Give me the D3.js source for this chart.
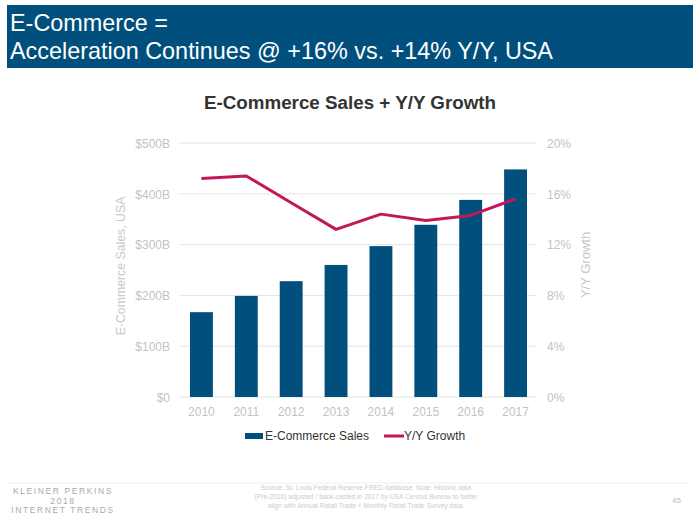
<!DOCTYPE html>
<html><head><meta charset="utf-8">
<script src="https://cdn.jsdelivr.net/npm/d3@7"></script>
<style>body{margin:0;background:#fff}svg{display:block;font-family:"Liberation Sans",Arial,sans-serif}</style>
</head><body><svg id="c" width="700" height="525"></svg>
<script>
const years = ["2010","2011","2012","2013","2014","2015","2016","2017"];
const sales = [167, 199, 228, 260, 297, 339, 388, 448];
const growth = [17.2, 17.4, 15.3, 13.2, 14.4, 13.9, 14.3, 15.6];
const salesTicks = [0, 100, 200, 300, 400, 500];
const growthTicks = [0, 4, 8, 12, 16, 20];

const svg = d3.select("#c");
// header bar
svg.append("rect").attr("x",7).attr("y",5).attr("width",686).attr("height",63).attr("fill","#004f7c");
svg.append("text").attr("x",10).attr("y",31).attr("fill","#fff").attr("font-size",23.4).text("E-Commerce =");
svg.append("text").attr("x",10).attr("y",59).attr("fill","#fff").attr("font-size",23.4).text("Acceleration Continues @ +16% vs. +14% Y/Y, USA");

svg.append("text").attr("x",350).attr("y",109).attr("text-anchor","middle").attr("fill","#333")
  .attr("font-size",18.8).attr("font-weight","bold").text("E-Commerce Sales + Y/Y Growth");

const x = d3.scaleBand().domain(years).range([179,538]).paddingInner(0.49).paddingOuter(0.245);
const y = d3.scaleLinear().domain([0,500]).range([397,143]);
const y2 = d3.scaleLinear().domain([0,20]).range([397,143]);

// gridlines
svg.append("g").selectAll("line").data(salesTicks).join("line")
  .attr("x1",179).attr("x2",536).attr("y1",d=>y(d)).attr("y2",d=>y(d))
  .attr("stroke","#e4e4e4").attr("stroke-width",1);

const la = svg.append("g").attr("transform","translate(170,0)")
  .call(d3.axisLeft(y).tickValues(salesTicks).tickSize(0).tickFormat(d=>d===0?"$0":"$"+d+"B"));
la.select(".domain").remove();
la.selectAll("text").attr("fill","#c3c3c3").attr("font-size",12).attr("font-family","Liberation Sans, Arial").attr("dy","0.35em").attr("x",0);

const ra = svg.append("g").attr("transform","translate(547,0)")
  .call(d3.axisRight(y2).tickValues(growthTicks).tickSize(0).tickFormat(d=>d+"%"));
ra.select(".domain").remove();
ra.selectAll("text").attr("fill","#c3c3c3").attr("font-size",12).attr("font-family","Liberation Sans, Arial").attr("dy","0.35em").attr("x",0);

const ba = svg.append("g").attr("transform","translate(0,407)")
  .call(d3.axisBottom(x).tickSize(0));
ba.select(".domain").remove();
ba.selectAll("text").attr("fill","#c3c3c3").attr("font-size",12).attr("font-family","Liberation Sans, Arial").attr("dy","0.71em").attr("y",0);

// bars
svg.append("g").selectAll("rect").data(years).join("rect")
  .attr("x",d=>x(d)).attr("width",x.bandwidth())
  .attr("y",(d,i)=>y(sales[i])).attr("height",(d,i)=>y(0)-y(sales[i]))
  .attr("fill","#004f7c");

// line
const line = d3.line().x((d,i)=>x(years[i])+x.bandwidth()/2).y(d=>y2(d));
svg.append("path").datum(growth).attr("d",line).attr("fill","none")
  .attr("stroke","#c0185a").attr("stroke-width",3).attr("stroke-linejoin","round");

// axis titles
svg.append("text").attr("transform","translate(125,266) rotate(-90)").attr("text-anchor","middle")
  .attr("fill","#c8c8c8").attr("font-size",12.3).text("E-Commerce Sales, USA");
svg.append("text").attr("transform","translate(590,265) rotate(-90)").attr("text-anchor","middle")
  .attr("fill","#c8c8c8").attr("font-size",13).text("Y/Y Growth");

// legend
svg.append("rect").attr("x",245).attr("y",433).attr("width",18).attr("height",6).attr("fill","#004f7c");
svg.append("text").attr("x",265).attr("y",440).attr("fill","#333").attr("font-size",12).text("E-Commerce Sales");
svg.append("line").attr("x1",384).attr("x2",404).attr("y1",436).attr("y2",436).attr("stroke","#c0185a").attr("stroke-width",3);
svg.append("text").attr("x",404).attr("y",440).attr("fill","#333").attr("font-size",12).text("Y/Y Growth");

// footer
svg.append("line").attr("x1",7).attr("x2",690).attr("y1",483).attr("y2",483).attr("stroke","#eee");
const kp = [["KLEINER PERKINS",491],["2018",501],["INTERNET TRENDS",510]];
svg.append("g").selectAll("text").data(kp).join("text").attr("x",63).attr("y",d=>d[1]+3).attr("text-anchor","middle")
  .attr("fill","#aaa").attr("font-size",8.5).attr("letter-spacing",1.6).text(d=>d[0]);
const src = ["Source: St. Louis Federal Reserve FRED database. Note: Historic data",
 "(Pre-2016) adjusted / back-casted in 2017 by USA Census Bureau to better",
 "align with Annual Retail Trade + Monthly Retail Trade Survey data."];
svg.append("g").selectAll("text").data(src).join("text").attr("x",366).attr("y",(d,i)=>490+i*9)
  .attr("text-anchor","middle").attr("fill","#ccc").attr("font-size",6.7).text(d=>d);
svg.append("text").attr("x",672).attr("y",503).attr("fill","#bbb").attr("font-size",8).text("45");
</script></body></html>
